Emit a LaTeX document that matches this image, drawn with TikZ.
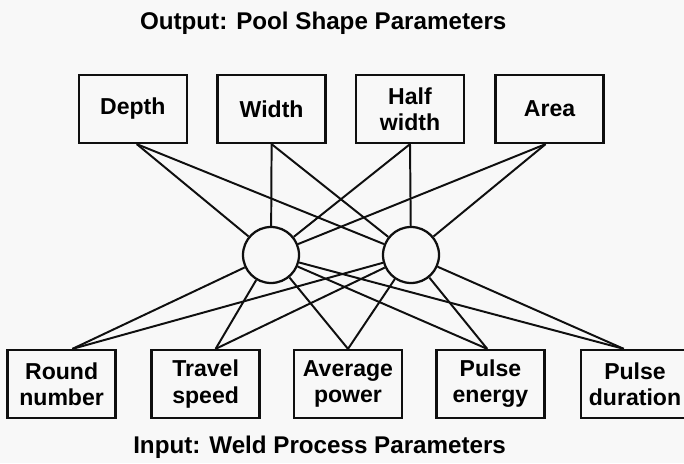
\documentclass[tikz,border=0pt]{standalone}
\usepackage{xcolor}
\usepackage{fontspec}
\setmainfont{Liberation Sans}
\usepackage{tikz}
\usetikzlibrary{positioning, calc}
\definecolor{paper}{RGB}{248,248,248}
\definecolor{ink}{RGB}{15,15,15}

\tikzset{
    parambox/.style={
        draw=ink,
        line width=1.6pt,
        fill=paper,
        minimum width=2.7cm,
        minimum height=1.7cm,
        inner sep=1pt,
        align=center,
        font=\bfseries\fontsize{16.4}{18.6}\selectfont
    },
    neuron/.style={
        circle,
        draw=ink,
        line width=1.6pt,
        fill=paper,
        minimum size=1.4cm,
        inner sep=0pt
    },
    link/.style={
        ink,
        line width=1.4pt
    },
    heading/.style={
        font=\bfseries\fontsize{17.2}{19.5}\selectfont
    }
}

\begin{document}
\begin{tikzpicture}

        % Page area
        \useasboundingbox (0,0) rectangle (17.1,11.575);
        \fill[paper] (0,0) rectangle (17.1,11.575);

        % Titles
        \node[heading] (outtitle) at (8.08,11.0) {Output: Pool Shape Parameters};
        \node[heading] (intitle) at (7.99,0.40) {Input: Weld Process Parameters};

        % Output layer
        \node[parambox] (depth) at (3.32,8.85) {Depth};
        \node[parambox] (width) at (6.79,8.85) {Width};
        \node[parambox] (halfwidth) at (10.25,8.85) {Half\\width};
        \node[parambox] (area) at (13.74,8.85) {Area};

        % Hidden layer
        \node[neuron] (hidA) at (6.775,5.2) {};
        \node[neuron] (hidB) at (10.275,5.2) {};

        % Input layer
        \node[parambox] (round) at (1.54,1.975) {Round\\number};
        \node[parambox] (speed) at (5.14,1.975) {Travel\\speed};
        \node[parambox] (power) at (8.7,1.975) {Average\\power};
        \node[parambox] (energy) at (12.26,1.975) {Pulse\\energy};
        \node[parambox] (duration) at (15.875,1.975) {Pulse\\duration};

        % Output to hidden connections
        \draw[link] ([xshift=0.1cm]depth.south) -- (hidA);
        \draw[link] ([xshift=0.1cm]depth.south) -- (hidB);
        \draw[link] (width.south) -- (hidA);
        \draw[link] (width.south) -- (hidB);
        \draw[link] (halfwidth.south) -- (hidA);
        \draw[link] (halfwidth.south) -- (hidB);
        \draw[link] ([xshift=-0.1cm]area.south) -- (hidA);
        \draw[link] ([xshift=-0.1cm]area.south) -- (hidB);

        % Input to hidden connections
        \draw[link] ([xshift=0.27cm]round.north) -- (hidA);
        \draw[link] ([xshift=0.27cm]round.north) -- (hidB);
        \draw[link] ([xshift=0.25cm]speed.north) -- (hidA);
        \draw[link] ([xshift=0.25cm]speed.north) -- (hidB);
        \draw[link] (power.north) -- (hidA);
        \draw[link] (power.north) -- (hidB);
        \draw[link] ([xshift=-0.08cm]energy.north) -- (hidA);
        \draw[link] ([xshift=-0.08cm]energy.north) -- (hidB);
        \draw[link] ([xshift=-0.28cm]duration.north) -- (hidA);
        \draw[link] ([xshift=-0.28cm]duration.north) -- (hidB);

    \end{tikzpicture}
\end{document}
